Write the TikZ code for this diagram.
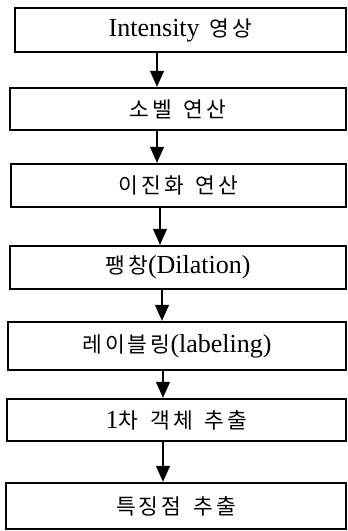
\documentclass[tikz,border=0pt]{standalone}
\usepackage{fontspec}
\setmainfont{Liberation Serif}
\newfontfamily\krfont{Noto Sans CJK KR}
\usetikzlibrary{arrows.meta}
\newcommand\ks{\kern3pt}
\newcommand\ws{\kern12pt}
\newcommand\lat[1]{{\fontsize{26}{30}\selectfont #1}}
\newcommand\kor[1]{{\krfont\fontsize{21.5}{25}\selectfont #1}}
\begin{document}
\begin{tikzpicture}[x=1pt,y=-1pt,
  stepbox/.style={draw=black, line width=2.4pt, rectangle, inner sep=0pt},
  arr/.style={draw=black, line width=1.2pt, -{Triangle[length=16pt,width=14pt]}}]
\useasboundingbox (0,0) rectangle (348,531);
\node[stepbox, minimum width=331pt, minimum height=44pt] (b1) at (180.5,30)
  {\lat{Intensity}\kern10pt\kor{영\ks 상}};
\node[stepbox, minimum width=336pt, minimum height=42pt] (b2) at (178,109)
  {\kor{소\ks 벨\ws 연\ks 산}};
\node[stepbox, minimum width=335pt, minimum height=43pt] (b3) at (178.5,185.5)
  {\kor{이\ks 진\ks 화\ws 연\ks 산}};
\node[stepbox, minimum width=336pt, minimum height=43pt] (b4) at (178,267.5)
  {\kor{팽\ks 창}\lat{(Dilation)}};
\node[stepbox, minimum width=338pt, minimum height=48pt] (b5) at (177,346)
  {\kor{레\ks 이\ks 블\ks 링}\lat{(labeling)}};
\node[stepbox, minimum width=339pt, minimum height=42pt] (b6) at (176.5,420)
  {\lat{1}\kor{차\ws 객\ks 체\ws 추\ks 출}};
\node[stepbox, minimum width=340pt, minimum height=46pt] (b7) at (176,506)
  {\kor{특\ks 징\ks 점\ws 추\ks 출}};
\draw[arr] (b1.south -| 157,0) -- (b2.north -| 157,0);
\draw[arr] (b2.south -| 157,0) -- (b3.north -| 157,0);
\draw[arr] (b3.south -| 160,0) -- (b4.north -| 160,0);
\draw[arr] (b4.south -| 162,0) -- (b5.north -| 162,0);
\draw[arr] (b5.south -| 163,0) -- (b6.north -| 163,0);
\draw[arr] (b6.south -| 163,0) -- (b7.north -| 163,0);
\end{tikzpicture}
\end{document}
